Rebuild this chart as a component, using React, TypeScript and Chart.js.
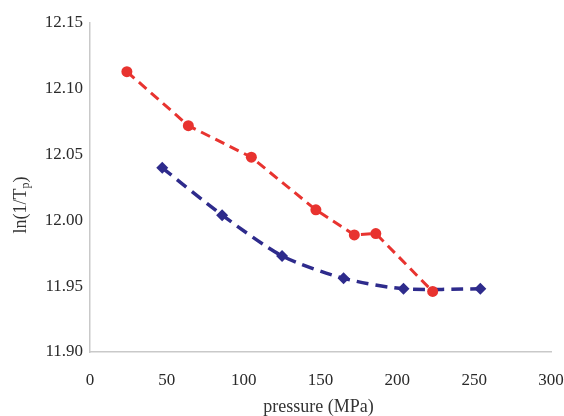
import React, { useEffect, useRef } from "react";
import { Chart, registerables } from "chart.js";

Chart.register(...registerables);

const redPressure = [24, 64, 105, 147, 172, 186, 223];
const redValues = [12.113, 12.072, 12.048, 12.008, 11.989, 11.99, 11.946];
const bluePressure = [47, 86, 125, 165, 204, 254];
const blueValues = [12.04, 12.004, 11.973, 11.956, 11.948, 11.948];
const xTicks = [0, 50, 100, 150, 200, 250, 300];
const yTicks = [11.9, 11.95, 12.0, 12.05, 12.1, 12.15];
const xTitle = "pressure (MPa)";
const yTitleMain = "ln(1/T";
const yTitleSub = "p";
const yTitleEnd = ")";

const FONT = "'Liberation Serif', 'Times New Roman', serif";

const titlePlugin = {
  id: "customTitles",
  afterDraw(chart: any) {
    const ctx = chart.ctx;
    const area = chart.chartArea;
    ctx.save();
    ctx.fillStyle = "#333";
    ctx.textBaseline = "middle";
    // x title
    ctx.font = `18px ${FONT}`;
    ctx.textAlign = "center";
    ctx.fillText(xTitle, (area.left + area.right) / 2 - 2, 407);
    // y title with subscript
    ctx.translate(21, 205);
    ctx.rotate(-Math.PI / 2);
    ctx.font = `18px ${FONT}`;
    const w1 = ctx.measureText(yTitleMain).width;
    ctx.font = `12px ${FONT}`;
    const w2 = ctx.measureText(yTitleSub).width;
    ctx.font = `18px ${FONT}`;
    const w3 = ctx.measureText(yTitleEnd).width;
    const total = w1 + w2 + w3;
    let x = -total / 2;
    ctx.textAlign = "left";
    ctx.fillText(yTitleMain, x, 0);
    x += w1;
    ctx.font = `12px ${FONT}`;
    ctx.fillText(yTitleSub, x, 5);
    x += w2;
    ctx.font = `18px ${FONT}`;
    ctx.fillText(yTitleEnd, x, 0);
    ctx.restore();
  },
};

export default function App() {
  const ref = useRef<HTMLCanvasElement>(null);
  useEffect(() => {
    if (!ref.current) return;
    const chart = new Chart(ref.current, {
      type: "line",
      data: {
        datasets: [
          {
            label: "red",
            data: redPressure.map((x, i) => ({ x, y: redValues[i] })),
            borderColor: "#e8332f",
            backgroundColor: "#e8332f",
            borderWidth: 3,
            borderDash: [10, 6],
            pointStyle: "circle",
            pointRadius: 5.5,
            pointBorderWidth: 0,
            tension: 0,
          },
          {
            label: "blue",
            data: bluePressure.map((x, i) => ({ x, y: blueValues[i] })),
            borderColor: "#2e2b8c",
            backgroundColor: "#2e2b8c",
            borderWidth: 3.5,
            borderDash: [12, 7],
            pointStyle: "rectRot",
            pointRadius: 6,
            pointBorderWidth: 0,
            tension: 0.25,
          },
        ],
      },
      options: {
        responsive: false,
        animation: false,
        layout: { padding: { top: 23, right: 0, left: 0, bottom: 0 } },
        plugins: { legend: { display: false }, tooltip: { enabled: false } },
        scales: {
          x: {
            type: "linear",
            min: 0,
            max: 300,
            afterBuildTicks: (s: any) => {
              s.ticks = xTicks.map((v) => ({ value: v }));
            },
            afterFit: (s: any) => {
              s.height = 64;
              s.paddingRight = 13;
              s.paddingLeft = 0;
            },
            grid: { display: false, drawTicks: false },
            border: { display: true, color: "#c9c9c9", width: 1.5 },
            ticks: {
              padding: 18,
              color: "#2a2a2a",
              font: { family: FONT, size: 17 },
              maxRotation: 0,
            },
          },
          y: {
            type: "linear",
            min: 11.9,
            max: 12.15,
            afterBuildTicks: (s: any) => {
              s.ticks = yTicks.map((v) => ({ value: v }));
            },
            afterFit: (s: any) => {
              s.width = 90;
            },
            grid: { display: false, drawTicks: false },
            border: { display: true, color: "#c9c9c9", width: 1.5 },
            ticks: {
              padding: 7,
              color: "#2a2a2a",
              font: { family: FONT, size: 17 },
              callback: (v: any) => Number(v).toFixed(2),
            },
          },
        },
      },
      plugins: [titlePlugin],
    });
    return () => chart.destroy();
  }, []);
  return (
    <div style={{ position: "absolute", left: 0, top: 0, width: 564, height: 416, background: "#fff" }}>
      <canvas ref={ref} width={564} height={416} />
    </div>
  );
}
